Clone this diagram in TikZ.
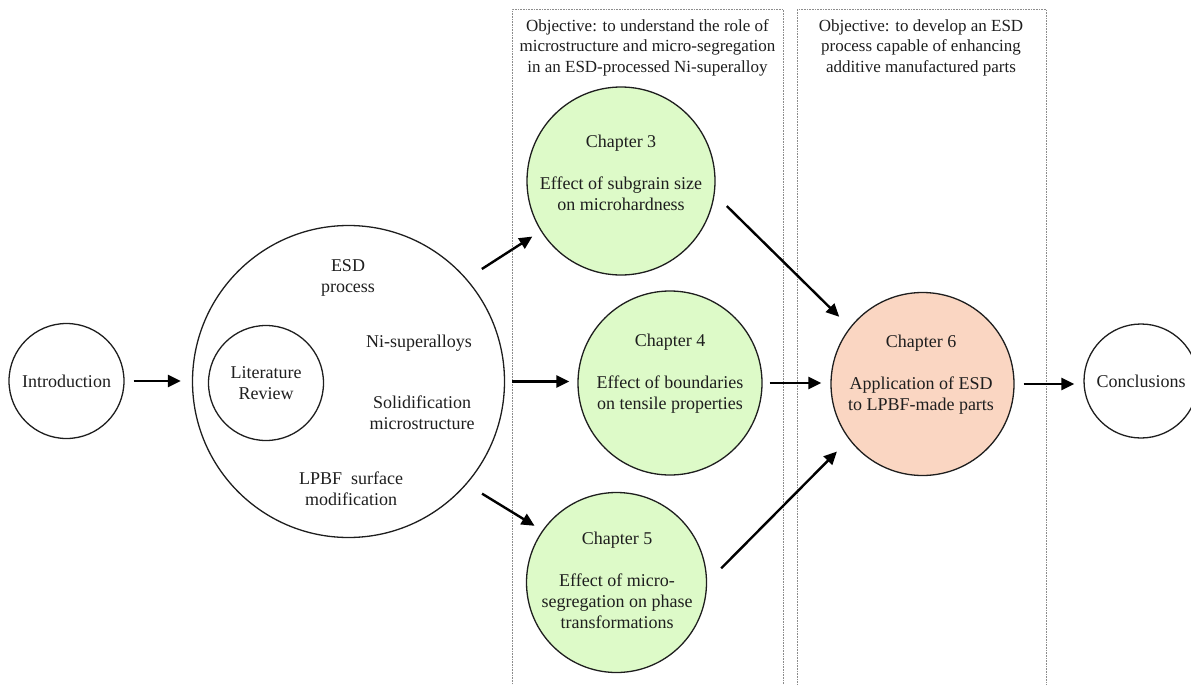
\documentclass[tikz,border=0pt]{standalone}
\usepackage{fontspec}
\setmainfont{Liberation Serif}
\usetikzlibrary{arrows.meta}
\definecolor{chgreen}{RGB}{221,250,200}
\definecolor{chpeach}{RGB}{250,214,194}
\definecolor{txt}{RGB}{30,30,30}
\definecolor{dotgray}{RGB}{140,140,140}
\begin{document}
\begin{tikzpicture}[x=1pt,y=-1pt,
  circ/.style={circle,draw=txt,line width=1.3pt,inner sep=0pt},
  lbl/.style={align=center,font=\fontsize{18}{21}\selectfont,text=txt,inner sep=0pt},
  obj/.style={align=center,font=\fontsize{17}{20.5}\selectfont,text=txt,inner sep=0pt},
  arr/.style={line width=2.4pt,-{Triangle[length=13pt,width=12pt]}},
  objbox/.style={draw=dotgray,line width=0.8pt,dash pattern=on 0.8pt off 0.8pt,
    anchor=north west,inner sep=0pt,minimum height=690pt}]
\useasboundingbox (0,0) rectangle (1191,685);

% objective frames
\node[objbox,minimum width=271pt] (box1) at (512,9) {};
\node[objbox,minimum width=249pt] (box2) at (797,9) {};
\node[obj] (obj1) at (647.5,47.5) {Objective: to understand the role of\\microstructure and micro-segregation\\in an ESD-processed Ni-superalloy};
\node[obj] (obj2) at (921,47.5) {Objective: to develop an ESD\\process capable of enhancing\\additive manufactured parts};

% circles
\node[circ,lbl,minimum size=115pt] (intro) at (66.5,381) {Introduction};
\node[circ,minimum size=312pt] (big) at (348.5,381.5) {};
\node[circ,lbl,minimum size=115pt] (lit) at (266,383) {Literature\\Review};
\node[circ,fill=chgreen,minimum size=188pt] (ch3) at (621,181) {};
\node[circ,fill=chgreen,minimum size=184pt] (ch4) at (670,383) {};
\node[circ,fill=chgreen,minimum size=180pt] (ch5) at (616.5,582.5) {};
\node[circ,fill=chpeach,minimum size=183pt] (ch6) at (922.5,384) {};
\node[circ,lbl,minimum size=114pt] (concl) at (1141,381) {Conclusions};

% texts in the review circle
\node[lbl] (esd) at (348,277.5) {ESD\\process};
\node[lbl] (ni) at (419,343) {Ni-superalloys};
\node[lbl] (sol) at (422,413) {Solidification\\microstructure};
\node[lbl] (lpbf) at (351,488.5) {LPBF\ \ surface\\modification};

% chapter texts
\node[lbl] (ch3t) at (621,173) {Chapter 3\\[21pt]Effect of subgrain size\\on microhardness};
\node[lbl] (ch4t) at (670,374) {Chapter 4\\[21pt]Effect of boundaries\\on tensile properties};
\node[lbl] (ch5t) at (617,580.5) {Chapter 5\\[21pt]Effect of micro-\\segregation on phase\\transformations};
\node[lbl] (ch6t) at (921,374.5) {Chapter 6\\[21pt]Application of ESD\\to LPBF-made parts};

% connectors
\draw[arr,shorten <=9pt,shorten >=11pt] (intro.east) -- (intro.east -| big.west);
\draw[arr,shorten <=18pt,shorten >=10pt] (big.41.8) -- (ch3.212.7);
\draw[arr,shorten <=7pt,shorten >=8pt] (big.east) -- (big.east -| ch4.west);
\draw[arr,shorten <=18pt,shorten >=9pt] (big.-41.8) -- (ch5.145.9);
\draw[arr,shorten <=17pt,shorten >=15pt] (ch3.-8.1) -- (ch6.142.6);
\draw[arr,shorten <=7pt,shorten >=9pt] (ch4.east) -- (ch4.east -| ch6.west);
\draw[arr,shorten <=20pt,shorten >=17pt] (ch5.0) -- (ch6.217);
\draw[arr,shorten <=9pt,shorten >=9pt] (ch6.east) -- (ch6.east -| concl.west);
\end{tikzpicture}
\end{document}
